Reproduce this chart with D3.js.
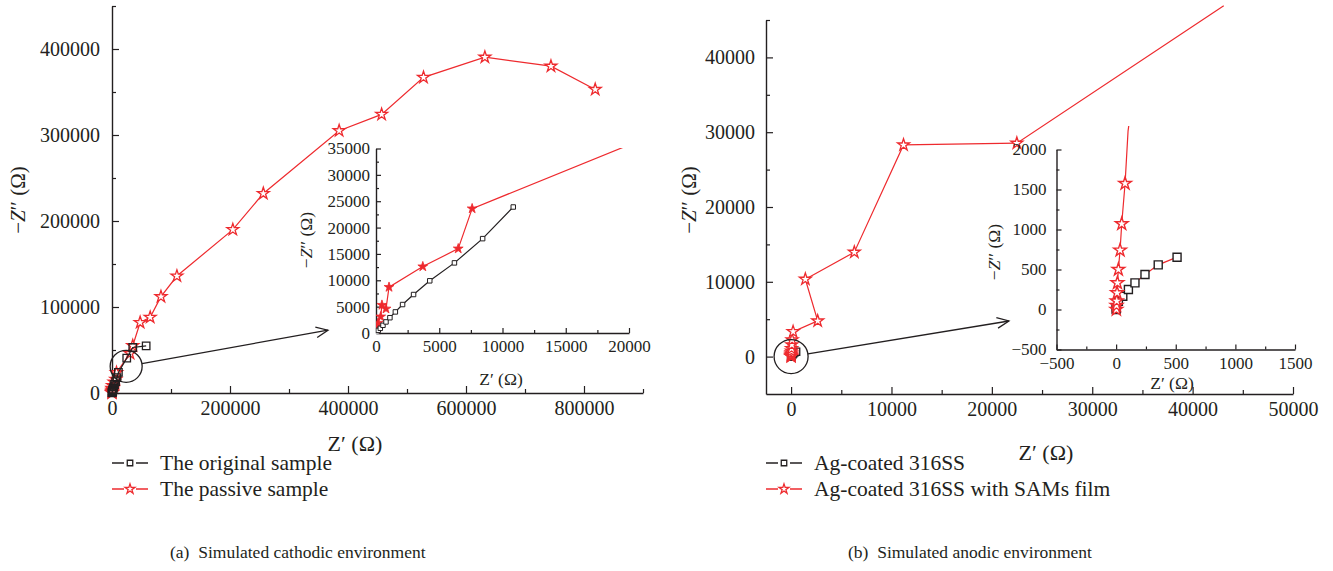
<!DOCTYPE html>
<html>
<head>
<meta charset="utf-8">
<script src="https://cdn.jsdelivr.net/npm/d3@7"></script>
<style>
  body { margin: 0; background: #fff; }
  svg text { font-family: "Liberation Serif", "Times New Roman", serif; fill: #231f20; }
</style>
</head>
<body>
<div id="vizContainer"></div>
<script>
let w = 1333;
let h = 571;
let red = "#ee2a2e";
let ink = "#231f20";
let serif = '"Liberation Serif", "Times New Roman", serif';

// ---- (a) simulated cathodic environment ----
// the original sample, low-impedance points (these also make the inset)
let origFine = [[80,190],[180,500],[340,890],[550,1460],[790,2100],[1100,2900],[1530,4000],[2100,5400],[2970,7300],[4250,9900],[6200,13300],[8430,17900],[10850,23900]];
// the original sample, remaining points only seen in the big plot
let origCoarse = [[25000,40600],[35200,52900],[57900,54900]];
// the passive sample
let passive = [[20,100],[50,500],[100,1150],[160,1900],[370,3100],[470,5300],[790,4600],[1030,8700],[3700,12600],[6500,16000],[7600,23600],[30600,46000],[35200,55000],[47700,82000],[64700,88000],[83000,112000],[110000,136000],[204800,190000],[256500,232000],[385000,305000],[457000,324000],[528000,367000],[632000,390500],[744000,380000],[819000,353000]];

let aXTicks = [0,200000,400000,600000,800000];
let aXMinor = [100000,300000,500000,700000,900000];
let aYTicks = [0,100000,200000,300000,400000];
let aYMinor = [50000,150000,250000,350000,450000];
let aInXTicks = [0,5000,10000,15000,20000];
let aInXMinor = [2500,7500,12500,17500];
let aInYTicks = [0,5000,10000,15000,20000,25000,30000,35000];
let aInYMinor = [2500,7500,12500,17500,22500,27500,32500];

// ---- (b) simulated anodic environment ----
let agCoated = [[0,0],[2,21],[19,104],[56,166],[103,250],[158,333],[242,438],[353,558],[511,654]];
let agSams = [[2,0],[3,50],[5,105],[8,208],[11,333],[19,500],[33,741],[47,1071],[75,1575],[100,2230],[200,3340],[2650,4770],[1420,10350],[6300,13960],[11200,28300],[22490,28530],[43100,46900]];

let bXTicks = [0,10000,20000,30000,40000,50000];
let bXMinor = [5000,15000,25000,35000,45000];
let bYTicks = [0,10000,20000,30000,40000];
let bYMinor = [5000,15000,25000,35000,45000];
let bInXTicks = [-500,0,500,1000,1500];
let bInXMinor = [-250,250,750,1250];
let bInYTicks = [-500,0,500,1000,1500,2000];
let bInYMinor = [-250,250,750,1250,1750];

let legendA = ["The original sample", "The passive sample"];
let legendB = ["Ag-coated 316SS", "Ag-coated 316SS with SAMs film"];
let captionA = "(a)\u2002Simulated cathodic environment";
let captionB = "(b)\u2002Simulated anodic environment";


let viz = d3.select("#vizContainer").append("svg")
    .attr("width", w)
    .attr("height", h)
    .style("background-color", "white")
;

let fmt = d3.format("d");

// scales
let aX = d3.scaleLinear().domain([0, 900000]).range([112, 643]);
let aY = d3.scaleLinear().domain([0, 450000]).range([393, 6]);
let aInX = d3.scaleLinear().domain([0, 20000]).range([376, 629]);
let aInY = d3.scaleLinear().domain([0, 35000]).range([333, 148.5]);
let bX = d3.scaleLinear().domain([-2500, 50000]).range([766, 1293]);
let bY = d3.scaleLinear().domain([-5000, 45000]).range([394, 20]);
let bInX = d3.scaleLinear().domain([-500, 1500]).range([1056.5, 1295]);
let bInY = d3.scaleLinear().domain([-500, 2000]).range([349.5, 149.5]);


function drawAxes(x, y, o){
  let g = viz.append("g");
  let x0 = x.range()[0];
  let y0 = y.range()[0];
  // minor ticks first
  g.append("g")
      .attr("transform", "translate(0,"+y0+")")
      .call(d3.axisBottom(x).tickValues(o.xMinor).tickFormat("").tickSizeInner(-o.minor).tickSizeOuter(0))
      .call(a=>a.select(".domain").remove())
  ;
  g.append("g")
      .attr("transform", "translate("+x0+",0)")
      .call(d3.axisLeft(y).tickValues(o.yMinor).tickFormat("").tickSizeInner(-o.minor).tickSizeOuter(0))
      .call(a=>a.select(".domain").remove())
  ;
  g.append("g")
      .attr("transform", "translate(0,"+y0+")")
      .call(d3.axisBottom(x).tickValues(o.xTicks).tickFormat(fmt).tickSizeInner(-o.major).tickSizeOuter(0).tickPadding(o.padX))
  ;
  g.append("g")
      .attr("transform", "translate("+x0+",0)")
      .call(d3.axisLeft(y).tickValues(o.yTicks).tickFormat(fmt).tickSizeInner(-o.major).tickSizeOuter(0).tickPadding(o.padY))
  ;
  g.selectAll("text").attr("font-size", o.font).attr("font-family", serif).style("fill", ink);
  g.selectAll("line").attr("stroke", ink).attr("stroke-width", 1.2);
  g.selectAll(".domain").attr("stroke", ink).attr("stroke-width", 1.4);
  return g;
}

function inDomain(x, y, d){
  let xd = x.domain(), yd = y.domain();
  return d[0] >= xd[0] && d[0] <= xd[1] && d[1] >= yd[0] && d[1] <= yd[1];
}

function drawSeries(g, x, y, pts, o){
  g.append("path")
      .datum(pts)
      .attr("d", d3.line().x(d=>x(d[0])).y(d=>y(d[1])))
      .attr("fill", "none")
      .attr("stroke", o.line)
      .attr("stroke-width", 1.2)
  ;
  let sym = d3.symbol().type(o.type).size(o.size);
  g.selectAll(null)
    .data(pts.filter(d=>inDomain(x, y, d)))
    .join("path")
      .attr("transform", d=>"translate("+x(d[0])+","+y(d[1])+")")
      .attr("d", sym)
      .attr("fill", o.fill)
      .attr("stroke", o.stroke)
      .attr("stroke-width", o.sw || 1.3)
  ;
}

function clipBox(id, x0, y0, x1, y1){
  viz.append("clipPath").attr("id", id)
    .append("rect")
      .attr("x", x0).attr("y", y0)
      .attr("width", x1-x0).attr("height", y1-y0)
  ;
}

function callout(cx, cy, r, ex, ey){
  let g = viz.append("g").attr("fill", "none").attr("stroke", ink).attr("stroke-width", 1.3);
  g.append("circle").attr("cx", cx).attr("cy", cy).attr("r", r);
  let ang = Math.atan2(ey-cy, ex-cx);
  g.append("line")
      .attr("x1", cx + r*Math.cos(ang)).attr("y1", cy + r*Math.sin(ang))
      .attr("x2", ex).attr("y2", ey)
  ;
  let hl = 13, ha = 0.42;
  g.append("path")
      .attr("d", "M"+(ex-hl*Math.cos(ang-ha))+","+(ey-hl*Math.sin(ang-ha))
        +"L"+ex+","+ey
        +"L"+(ex-hl*Math.cos(ang+ha))+","+(ey-hl*Math.sin(ang+ha)))
  ;
}

function yLabel(x, y, size){
  let t = viz.append("text")
      .attr("transform", "translate("+x+","+y+") rotate(-90)")
      .attr("text-anchor", "middle")
      .attr("dominant-baseline", "central")
      .attr("font-size", size)
  ;
  t.append("tspan").text("\u2212");
  t.append("tspan").attr("font-style", "italic").text("Z");
  t.append("tspan").text("\u2032\u2032 (\u03a9)");
}

function xLabel(x, y, size){
  viz.append("text")
      .attr("x", x).attr("y", y)
      .attr("text-anchor", "middle")
      .attr("dominant-baseline", "central")
      .attr("font-size", size)
      .text("Z\u2032 (\u03a9)")
  ;
}

function legend(x, y, names){
  names.forEach((n, i)=>{
    let yy = y + i*26;
    let c = i == 0 ? ink : red;
    // short dash, marker, short dash
    [[x, x+12], [x+24, x+36]].forEach(s=>{
      viz.append("line")
          .attr("x1", s[0]).attr("x2", s[1]).attr("y1", yy).attr("y2", yy)
          .attr("stroke", c).attr("stroke-width", 1.5)
      ;
    });
    viz.append("path")
        .attr("transform", "translate("+(x+18)+","+yy+")")
        .attr("d", d3.symbol().type(i == 0 ? d3.symbolSquare : d3.symbolStar).size(i == 0 ? 30 : 30)())
        .attr("fill", "white").attr("stroke", c).attr("stroke-width", 1.3)
    ;
    viz.append("text")
        .attr("x", x+48).attr("y", yy)
        .attr("dominant-baseline", "central")
        .attr("font-size", 21.5)
        .text(n)
    ;
  });
}

// ================= (a) =================
drawAxes(aX, aY, {xTicks:aXTicks, xMinor:aXMinor, yTicks:aYTicks, yMinor:aYMinor, font:20, major:7, minor:4, padX:8, padY:12});
let aMain = viz.append("g");
drawSeries(aMain, aX, aY, passive, {line:red, type:d3.symbolStar, size:44, fill:"white", stroke:red});
drawSeries(aMain, aX, aY, origFine.concat(origCoarse), {line:ink, type:d3.symbolSquare, size:56, fill:"none", stroke:ink});
yLabel(18, 200, 21);
xLabel(355, 443, 22);
callout(aX(24000), aY(31000), 16, aX(366000), aY(73000));

// inset
drawAxes(aInX, aInY, {xTicks:aInXTicks, xMinor:aInXMinor, yTicks:aInYTicks, yMinor:aInYMinor, font:17, major:5, minor:3, padX:7, padY:6});
clipBox("clipA", 376, 148, 630, 334);
let aIn = viz.append("g").attr("clip-path", "url(#clipA)");
drawSeries(aIn, aInX, aInY, passive, {line:red, type:d3.symbolStar, size:30, fill:red, stroke:red, sw:0.8});
drawSeries(aIn, aInX, aInY, origFine, {line:ink, type:d3.symbolSquare, size:20, fill:"white", stroke:ink, sw:1});
yLabel(306, 240, 17.5);
xLabel(501, 379, 17.5);

legend(112, 463, legendA);
viz.append("text")
    .attr("x", 170).attr("y", 552)
    .attr("dominant-baseline", "central")
    .attr("font-size", 17.5)
    .text(captionA)
;

// ================= (b) =================
drawAxes(bX, bY, {xTicks:bXTicks, xMinor:bXMinor, yTicks:bYTicks, yMinor:bYMinor, font:20, major:7, minor:4, padX:8, padY:11});
let bMain = viz.append("g");
drawSeries(bMain, bX, bY, agCoated, {line:red, type:d3.symbolSquare, size:50, fill:"white", stroke:ink});
drawSeries(bMain, bX, bY, agSams, {line:red, type:d3.symbolStar, size:44, fill:"white", stroke:red});
yLabel(689, 200, 21);
xLabel(1046, 452, 22);
callout(bX(0), bY(0), 17, bX(21700), bY(4760));

// inset
drawAxes(bInX, bInY, {xTicks:bInXTicks, xMinor:bInXMinor, yTicks:bInYTicks, yMinor:bInYMinor, font:17, major:5, minor:3, padX:7, padY:10});
clipBox("clipB", 1056, 126, 1296, 350);
let bIn = viz.append("g").attr("clip-path", "url(#clipB)");
drawSeries(bIn, bInX, bInY, agCoated, {line:red, type:d3.symbolSquare, size:64, fill:"white", stroke:ink, sw:1.4});
drawSeries(bIn, bInX, bInY, agSams, {line:red, type:d3.symbolStar, size:50, fill:"white", stroke:red, sw:1.4});
yLabel(994, 252, 17.5);
xLabel(1172, 383, 17.5);

legend(766, 463, legendB);
viz.append("text")
    .attr("x", 848).attr("y", 552)
    .attr("dominant-baseline", "central")
    .attr("font-size", 17.5)
    .text(captionB)
;
</script>
</body>
</html>
